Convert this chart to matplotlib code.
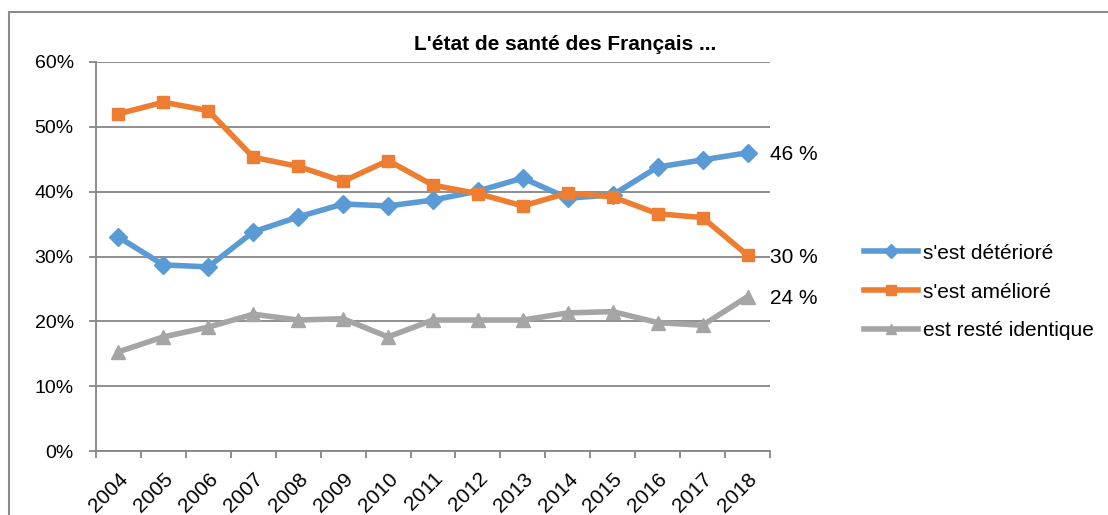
import numpy as np
import matplotlib
matplotlib.use('Agg')
import matplotlib.pyplot as plt
from matplotlib.patches import Rectangle
from matplotlib.ticker import FixedLocator, PercentFormatter

plt.rcParams['font.family'] = ['Liberation Sans', 'DejaVu Sans']

years = ['2004', '2005', '2006', '2007', '2008', '2009', '2010', '2011',
         '2012', '2013', '2014', '2015', '2016', '2017', '2018']
deteriore = [33.0, 28.7, 28.4, 33.8, 36.1, 38.1, 37.8, 38.7,
             40.1, 42.1, 39.0, 39.5, 43.8, 44.9, 46.0]
ameliore = [52.0, 53.8, 52.5, 45.3, 43.9, 41.6, 44.8, 41.0,
            39.7, 37.8, 39.8, 39.2, 36.6, 36.0, 30.2]
identique = [15.3, 17.6, 19.1, 21.1, 20.2, 20.4, 17.6, 20.2,
             20.2, 20.2, 21.3, 21.5, 19.8, 19.4, 23.8]
labels = ["s'est détérioré", "s'est amélioré", "est resté identique"]
end_labels = ['46 %', '30 %', '24 %']

blue = '#5B9BD5'
orange = '#ED7D31'
gray = '#A5A5A5'
axis_col = '#868686'

fig = plt.figure(figsize=(11.08, 5.15), dpi=100)
ax = fig.add_axes([96/1108, 1 - 451/515, 674/1108, 389/515])

# chart border (cut by the image edges, like the screenshot)
fig.patches.append(Rectangle((9/1108, -0.05), 1.1, 1 - 12/515 + 0.05,
                             transform=fig.transFigure, fill=False,
                             edgecolor='#8C8C8C', linewidth=1.5))

x = np.arange(len(years))
series = [(deteriore, blue, 'D', 9), (ameliore, orange, 's', 9), (identique, gray, '^', 10)]
for (vals, col, mk, ms), lab in zip(series, labels):
    ax.plot(x, vals, color=col, linewidth=4, marker=mk, markersize=ms,
            label=lab, solid_joinstyle='round')

for (vals, col, mk, ms), txt in zip(series, end_labels):
    ax.annotate(txt, xy=(x[-1], vals[-1]), xytext=(22, -2),
                textcoords='offset pixels', va='center', ha='left', fontsize=15)

ax.set_xlim(-0.5, len(years) - 0.5)
ax.set_ylim(0, 60)
ax.set_yticks(np.arange(0, 61, 10))
ax.yaxis.set_major_formatter(PercentFormatter(decimals=0))
ax.yaxis.grid(True, color=axis_col, linewidth=1.3)
ax.set_axisbelow(True)

ax.set_xticks(x)
ax.set_xticklabels(years, rotation=45, ha='right', va='top', rotation_mode='anchor')
ax.xaxis.set_minor_locator(FixedLocator(np.arange(-0.5, len(years), 1)))
ax.tick_params(axis='x', which='major', length=0, labelsize=15, pad=13)
ax.tick_params(axis='x', which='minor', length=5, width=1.3, color=axis_col)
ax.tick_params(axis='y', length=5, width=1.3, color=axis_col, labelsize=14, pad=11)

for s in ['top', 'right']:
    ax.spines[s].set_visible(False)
for s in ['left', 'bottom']:
    ax.spines[s].set_color(axis_col)
    ax.spines[s].set_linewidth(1.3)

fig.text(565/1108, 1 - 45/515, "L'état de santé des Français ...", ha='center',
         va='center', fontsize=15, fontweight='bold')

leg = ax.legend(loc='center left', bbox_to_anchor=(864/1108, 1 - 292/515),
                bbox_transform=fig.transFigure, frameon=False, fontsize=15,
                handlelength=2.6, handletextpad=0.25, labelspacing=0.95,
                borderaxespad=0, borderpad=0)
for h in leg.legend_handles:
    h.set_markersize(7)

fig.savefig('out.png', dpi=100)
